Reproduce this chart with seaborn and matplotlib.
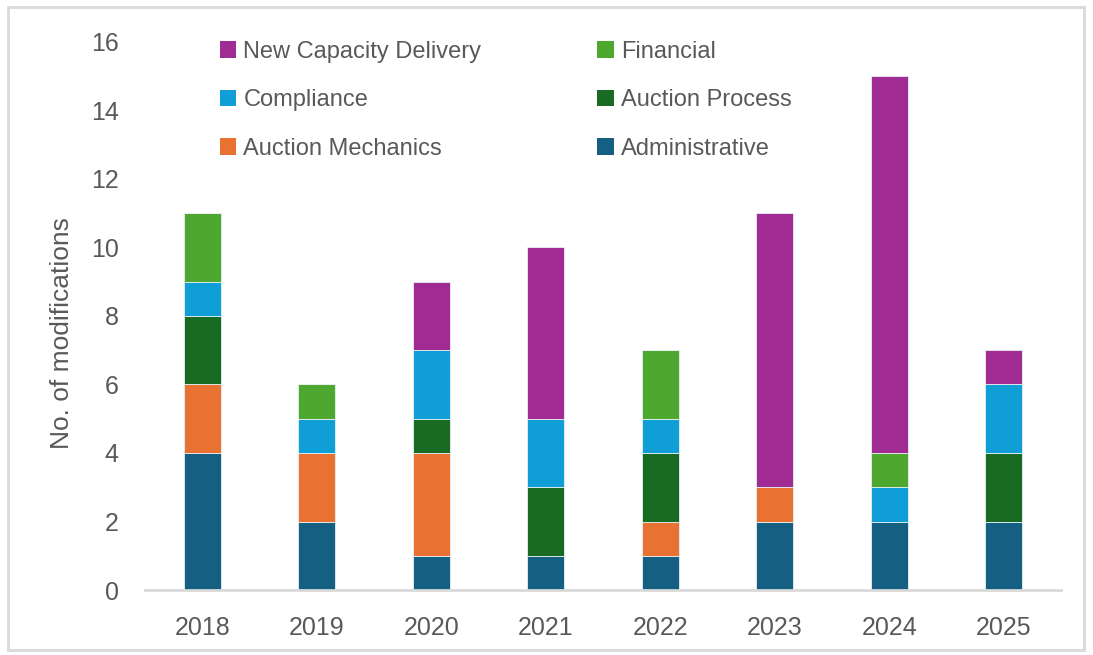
import matplotlib
matplotlib.use("Agg")
import matplotlib.pyplot as plt
from matplotlib.patches import Rectangle
import seaborn as sns
import numpy as np

years = ["2018", "2019", "2020", "2021", "2022", "2023", "2024", "2025"]

# Modifications per category, stacked bottom to top
administrative = [4, 2, 1, 1, 1, 2, 2, 2]
auction_mechanics = [2, 2, 3, 0, 1, 1, 0, 0]
auction_process = [2, 0, 1, 2, 2, 0, 0, 2]
compliance = [1, 1, 2, 2, 1, 0, 1, 2]
financial = [2, 1, 0, 0, 2, 0, 1, 0]
new_capacity_delivery = [0, 0, 2, 5, 0, 8, 11, 1]

series = [
    ("Administrative", administrative, "#156082"),
    ("Auction Mechanics", auction_mechanics, "#E97132"),
    ("Auction Process", auction_process, "#196B24"),
    ("Compliance", compliance, "#0F9ED5"),
    ("Financial", financial, "#4EA72E"),
    ("New Capacity Delivery", new_capacity_delivery, "#A02B93"),
]

sns.set_theme(style="white")
plt.rcParams["font.family"] = ["Liberation Sans", "DejaVu Sans"]
text_color = "#595959"

fig = plt.figure(figsize=(10.93, 6.55), dpi=100)
ax = fig.add_axes([145 / 1093, 1 - 590 / 655, (1061 - 145) / 1093, (590 - 42) / 655])

bottom = np.zeros(len(years))
handles = {}
for name, vals, color in series:
    sns.barplot(x=years, y=vals, bottom=bottom, color=color, saturation=1,
                width=0.32, edgecolor="#E8F0F5", linewidth=0.6, ax=ax, label=name)
    handles[name] = Rectangle((0, 0), 1, 1, facecolor=color, edgecolor="none")
    bottom = bottom + np.array(vals)

ax.set_ylim(0, 16)
ax.set_xlim(-0.5, len(years) - 0.5)
ax.set_yticks(range(0, 17, 2))
ax.tick_params(axis="both", colors=text_color, labelsize=18, length=0)
ax.tick_params(axis="x", pad=19)
ax.tick_params(axis="y", pad=19)
ax.set_xlabel("")
ax.set_ylabel("No. of modifications", color=text_color, fontsize=19)
ax.yaxis.label.set_va("center")
ax.yaxis.set_label_coords(-0.0905, 0.469)
for side in ["top", "right", "left"]:
    ax.spines[side].set_visible(False)
ax.spines["bottom"].set_color("#D9D9D9")
ax.spines["bottom"].set_linewidth(2)
ax.grid(False)

order = ["New Capacity Delivery", "Compliance", "Auction Mechanics",
         "Financial", "Auction Process", "Administrative"]
leg = ax.legend([handles[n] for n in order], order, ncol=2,
                loc="upper left", bbox_to_anchor=(208 / 1093, 1 - 29 / 655),
                bbox_transform=fig.transFigure, frameon=False,
                fontsize=17, labelcolor=text_color,
                handlelength=0.7, handleheight=0.7, handletextpad=0.3,
                labelspacing=1.12, columnspacing=4.9, borderpad=0)

# Outer chart frame
fig.patches.append(Rectangle((8 / 1093, 5 / 655), 1 - 9 / 1093 - 8 / 1093, 1 - 7 / 655 - 5 / 655,
                             transform=fig.transFigure, fill=False,
                             edgecolor="#D9D9D9", linewidth=2))

fig.savefig("out.png", dpi=100)
